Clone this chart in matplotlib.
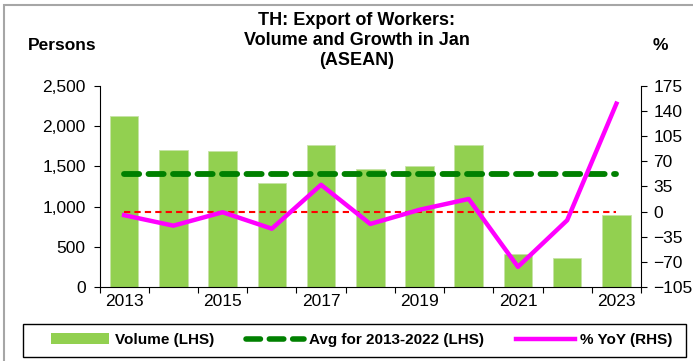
import numpy as np
import matplotlib.pyplot as plt
from matplotlib.lines import Line2D
from matplotlib.patches import Patch, Rectangle

plt.rcParams['font.family'] = ['Liberation Sans', 'DejaVu Sans']

# data (January, ASEAN destinations)
years = [2013, 2014, 2015, 2016, 2017, 2018, 2019, 2020, 2021, 2022, 2023]
volume = [2123, 1707, 1691, 1288, 1769, 1464, 1501, 1765, 407, 358, 896]
yoy = [-5.0, -19.6, -0.9, -23.8, 37.3, -17.2, 2.5, 17.6, -76.9, -12.0, 150.3]
tick_years = [2013, 2015, 2017, 2019, 2021, 2023]

avg = np.mean(volume[:10])

fig = plt.figure(figsize=(6.93, 3.61), dpi=100)
ax = fig.add_axes([0.1436, 0.205, 0.7814, 0.557])
ax2 = ax.twinx()

x = np.arange(len(years))
ax.bar(x, volume, width=0.58, color='#92D050', edgecolor='#C6E3A6', linewidth=0.6, zorder=2)
ax.plot([x[0], x[-1]], [avg, avg], color='#008000', lw=4.2, ls=(0, (2.6, 1.6)),
        dash_capstyle='round', zorder=3)

ax2.plot([x[0], x[-1]], [0, 0], color='#FF0000', lw=1.5, ls=(0, (3, 2)), zorder=3)
ax2.plot(x, yoy, color='#FF00FF', lw=3.2, zorder=4)

ax.set_xlim(-0.5, len(years) - 0.5)
ax.set_ylim(0, 2500)
ax.set_yticks(np.arange(0, 2501, 500))
ax.set_yticklabels([f'{v:,}' for v in range(0, 2501, 500)])
ax2.set_ylim(-105, 175)
ax2.set_yticks(np.arange(-105, 176, 35))

# ticks between categories, labels on every other year
ax.set_xticks(np.arange(-0.5, len(years)), minor=False)
ax.set_xticklabels([])
ax.set_xticks([years.index(y) for y in tick_years], minor=True)
ax.set_xticklabels([str(y) for y in tick_years], minor=True)
ax.tick_params(axis='x', which='minor', length=0, pad=5, labelsize=12.5)
ax.tick_params(axis='x', which='major', length=4, direction='out')
ax.tick_params(axis='y', length=4, direction='out', labelsize=12.5, pad=6)
ax2.tick_params(axis='y', length=4, direction='out', labelsize=12.5, pad=5)

for a in (ax, ax2):
    a.spines['top'].set_visible(False)
ax.spines['right'].set_visible(False)
ax2.spines['left'].set_visible(False)
ax2.spines['bottom'].set_visible(False)

fig.text(0.515, 0.888, 'TH: Export of Workers:\nVolume and Growth in Jan\n(ASEAN)',
         ha='center', va='center', fontsize=13, fontweight='bold', linespacing=1.2)
fig.text(0.09, 0.875, 'Persons', ha='center', va='center', fontsize=12.5, fontweight='bold')
fig.text(0.953, 0.875, '%', ha='center', va='center', fontsize=12.5, fontweight='bold')

handles = [
    Patch(facecolor='#92D050', edgecolor='none'),
    Line2D([], [], color='#008000', lw=4, ls=(0, (2.6, 1.6)), dash_capstyle='round'),
    Line2D([], [], color='#FF00FF', lw=3.2),
]
labels = ['Volume (LHS)', 'Avg for 2013-2022 (LHS)', '% YoY (RHS)']
leg = fig.legend(handles, labels, loc='center', ncol=3,
                 bbox_to_anchor=(0.522, 0.058), frameon=False,
                 prop={'weight': 'bold', 'size': 11}, handlelength=3.8,
                 handletextpad=0.35, columnspacing=2.1, borderpad=0.3)

# legend box
fig.patches.append(Rectangle((23 / 693, 1 - 357 / 361), 663 / 693, 33 / 361,
                             transform=fig.transFigure, fill=False,
                             edgecolor='black', lw=1.0))

# outer frame of the chart area
fig.patches.append(Rectangle((4 / 693, -0.1), 1.2, 1.1 - 5 / 361, transform=fig.transFigure,
                             fill=False, edgecolor='#A6A6A6', lw=1.5))

fig.savefig('out.png', dpi=100)
